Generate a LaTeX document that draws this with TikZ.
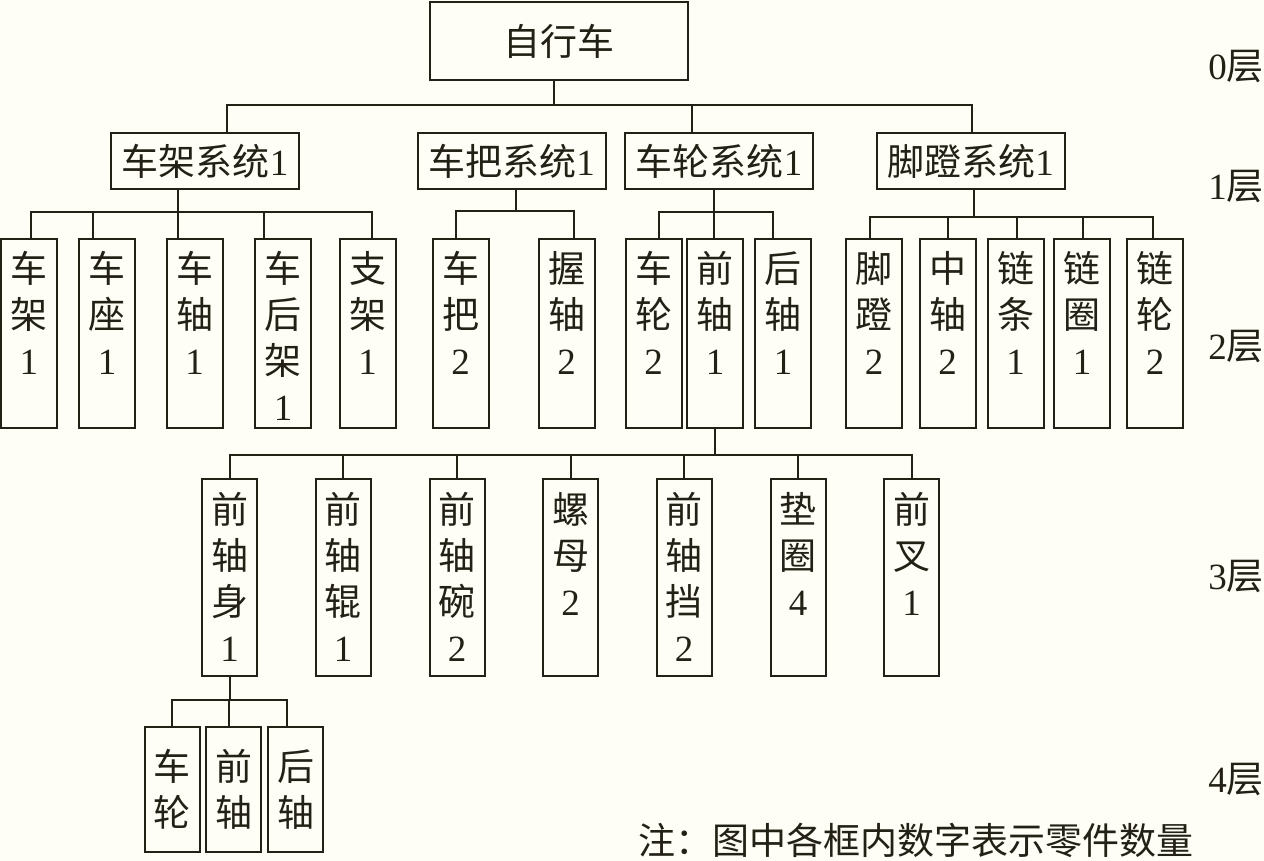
\documentclass[tikz,border=0pt]{standalone}
\usepackage{fontspec}
\setmainfont{Noto Sans CJK SC}
\newfontfamily\romfont{Liberation Serif}
\newcommand\cnt[1]{{\romfont #1}}
\newcommand\vcol[1]{\begin{tabular}[t]{@{}c@{}}#1\end{tabular}}
\definecolor{ink}{RGB}{35,33,22}
\definecolor{paper}{RGB}{254,254,246}

\tikzset{
  every node/.style={font=\fontsize{37}{46}\selectfont, text=ink},
  box/.style={draw=ink, line width=2pt, inner sep=0pt},
  sysbox/.style={box, minimum width=188, minimum height=56},
  leaf/.style={box, minimum width=56, text height=44, text depth=145},
  part/.style={box, minimum width=55, text height=44, text depth=153},
  small/.style={box, align=center, minimum width=55, minimum height=125},
  layer/.style={anchor=east, inner sep=0pt},
  link/.style={draw=ink, line width=2pt}
}

\begin{document}
\begin{tikzpicture}[x=1pt, y=-1pt]
  \path[use as bounding box, fill=paper] (0,0) rectangle (1264,861);

  % 0 and 1
  \node[box, minimum width=258, minimum height=78] (bike) at (559,41) {自行车};
  \node[sysbox] (frame) at (205,161) {车架系统\cnt{1}};
  \node[sysbox] (handle) at (511.5,161) {车把系统\cnt{1}};
  \node[sysbox] (wheel) at (719,161) {车轮系统\cnt{1}};
  \node[sysbox] (pedal) at (970.5,161) {脚蹬系统\cnt{1}};

  % 2
  \node[leaf] (frm) at (29,333.5) {\vcol{车\\架\\\cnt{1}}};
  \node[leaf] (seat) at (107,333.5) {\vcol{车\\座\\\cnt{1}}};
  \node[leaf] (axle) at (194.5,333.5) {\vcol{车\\轴\\\cnt{1}}};
  \node[leaf] (rack) at (283,333.5) {\vcol{车\\后\\架\\\cnt{1}}};
  \node[leaf] (stand) at (367.5,333.5) {\vcol{支\\架\\\cnt{1}}};
  \node[leaf] (bar) at (460.5,333.5) {\vcol{车\\把\\\cnt{2}}};
  \node[leaf] (grip) at (566.5,333.5) {\vcol{握\\轴\\\cnt{2}}};
  \node[leaf] (whl) at (653.5,333.5) {\vcol{车\\轮\\\cnt{2}}};
  \node[leaf] (faxle) at (715,333.5) {\vcol{前\\轴\\\cnt{1}}};
  \node[leaf] (raxle) at (783,333.5) {\vcol{后\\轴\\\cnt{1}}};
  \node[leaf] (ped) at (874,333.5) {\vcol{脚\\蹬\\\cnt{2}}};
  \node[leaf] (maxle) at (947.5,333.5) {\vcol{中\\轴\\\cnt{2}}};
  \node[leaf] (chain) at (1015.5,333.5) {\vcol{链\\条\\\cnt{1}}};
  \node[leaf] (ring) at (1082,333.5) {\vcol{链\\圈\\\cnt{1}}};
  \node[leaf] (gear) at (1155,333.5) {\vcol{链\\轮\\\cnt{2}}};

  % 3
  \node[part] (body) at (229.5,577.5) {\vcol{前\\轴\\身\\\cnt{1}}};
  \node[part] (roller) at (343,577.5) {\vcol{前\\轴\\辊\\\cnt{1}}};
  \node[part] (cup) at (457,577.5) {\vcol{前\\轴\\碗\\\cnt{2}}};
  \node[part] (nut) at (570.5,577.5) {\vcol{螺\\母\\\cnt{2}}};
  \node[part] (cone) at (684,577.5) {\vcol{前\\轴\\挡\\\cnt{2}}};
  \node[part] (washer) at (798,577.5) {\vcol{垫\\圈\\\cnt{4}}};
  \node[part] (fork) at (911.5,577.5) {\vcol{前\\叉\\\cnt{1}}};

  % 4
  \node[small] (hw) at (172,789.5) {车\\轮};
  \node[small] (hfa) at (233.5,789.5) {前\\轴};
  \node[small] (hra) at (295.5,789.5) {后\\轴};

  % layers and note
  \node[layer] (l0) at (1264,66) {\cnt{0}层};
  \node[layer] (l1) at (1264,186) {\cnt{1}层};
  \node[layer] (l2) at (1264,346) {\cnt{2}层};
  \node[layer] (l3) at (1264,576) {\cnt{3}层};
  \node[layer] (l4) at (1264,779) {\cnt{4}层};
  \node[anchor=west, inner sep=0pt] (note) at (638,840) {注：图中各框内数字表示零件数量};

  % links
  \draw[link] ([xshift=-5]bike.south) -- ++(0,24) -| ([xshift=22]frame.north);
  \draw[link] ([xshift=-5]bike.south) -- ++(0,24) -| ([xshift=-27]wheel.north);
  \draw[link] ([xshift=-5]bike.south) -- ++(0,24) -| ([xshift=1.5]pedal.north);

  \draw[link] ([xshift=-27]frame.south) -- ++(0,22) -| ([xshift=2]frm.north);
  \draw[link] ([xshift=-27]frame.south) -- ++(0,22) -| ([xshift=-14]seat.north);
  \draw[link] ([xshift=-27]frame.south) -- ++(0,22) -| ([xshift=-16.5]axle.north);
  \draw[link] ([xshift=-27]frame.south) -- ++(0,22) -| ([xshift=-19]rack.north);
  \draw[link] ([xshift=-27]frame.south) -- ++(0,22) -| ([xshift=4.5]stand.north);

  \draw[link] ([xshift=4.5]handle.south) -- ++(0,21) -| ([xshift=-4.5]bar.north);
  \draw[link] ([xshift=4.5]handle.south) -- ++(0,21) -| ([xshift=7.5]grip.north);

  \draw[link] ([xshift=-5]wheel.south) -- ++(0,22) -| ([xshift=5.5]whl.north);
  \draw[link] ([xshift=-5]wheel.south) -- ++(0,22) -| ([xshift=-1]faxle.north);
  \draw[link] ([xshift=-5]wheel.south) -- ++(0,22) -| ([xshift=-10]raxle.north);

  \draw[link] ([xshift=3.5]pedal.south) -- ++(0,27) -| ([xshift=-4]ped.north);
  \draw[link] ([xshift=3.5]pedal.south) -- ++(0,27) -| (maxle.north);
  \draw[link] ([xshift=3.5]pedal.south) -- ++(0,27) -| ([xshift=1.5]chain.north);
  \draw[link] ([xshift=3.5]pedal.south) -- ++(0,27) -| ([xshift=1]ring.north);
  \draw[link] ([xshift=3.5]pedal.south) -- ++(0,27) -| ([xshift=-2]gear.north);

  \draw[link] (faxle.south) -- ++(0,26) -| (body.north);
  \draw[link] (faxle.south) -- ++(0,26) -| (roller.north);
  \draw[link] (faxle.south) -- ++(0,26) -| (cup.north);
  \draw[link] (faxle.south) -- ++(0,26) -| (nut.north);
  \draw[link] (faxle.south) -- ++(0,26) -| (cone.north);
  \draw[link] (faxle.south) -- ++(0,26) -| (washer.north);
  \draw[link] (faxle.south) -- ++(0,26) -| (fork.north);

  \draw[link] (body.south) -- ++(0,23) -| (hw.north);
  \draw[link] (body.south) -- ++(0,23) -| ([xshift=-4.5]hfa.north);
  \draw[link] (body.south) -- ++(0,23) -| ([xshift=-8.5]hra.north);
\end{tikzpicture}
\end{document}
